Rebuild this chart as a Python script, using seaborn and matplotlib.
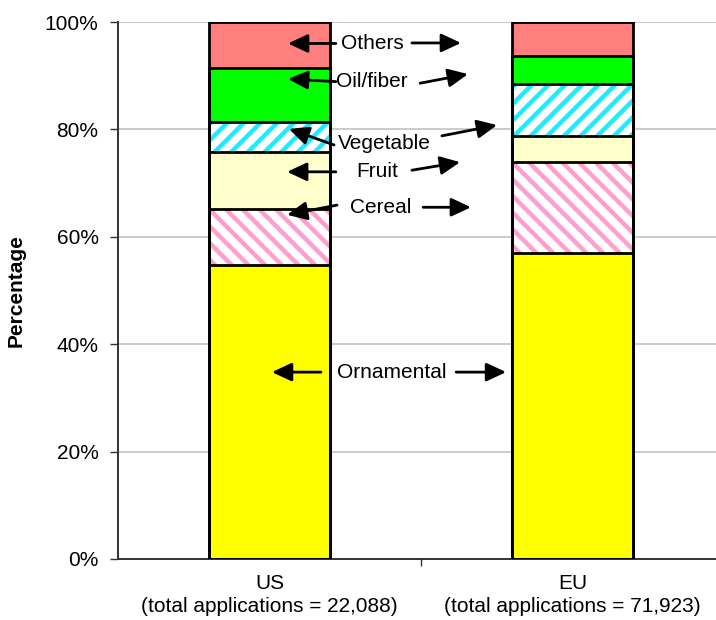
import numpy as np
import pandas as pd
import matplotlib
matplotlib.use("Agg")
import matplotlib.pyplot as plt
import seaborn as sns

# ---- data ----
regions = ["US", "EU"]
region_labels = ["US\n(total applications = 22,088)", "EU\n(total applications = 71,923)"]
categories = ["Ornamental", "Cereal", "Fruit", "Vegetable", "Oil/fiber", "Others"]
us_values = [54.7, 10.4, 10.6, 5.7, 10.0, 8.6]
eu_values = [57.0, 17.0, 4.8, 9.7, 5.2, 6.3]

colors = {"Ornamental": "#FFFF00", "Cereal": "#FF9ECF", "Fruit": "#FFFFCC",
          "Vegetable": "#1EEBFF", "Oil/fiber": "#00FF00", "Others": "#FF7F7F"}
hatches = {"Cereal": "\\\\", "Vegetable": "//"}

sns.set_theme(style="white")
plt.rcParams["font.family"] = ["Liberation Sans", "DejaVu Sans"]
plt.rcParams["hatch.linewidth"] = 3.2
plt.rcParams["text.color"] = "black"

fig = plt.figure(figsize=(7.16, 6.2), dpi=100)
ax = fig.add_axes([118 / 716, 1 - 559 / 620, 1 - 118 / 716, (559 - 22) / 620])

df = pd.DataFrame({"region": np.repeat(regions, len(categories)),
                   "category": categories * 2,
                   "value": us_values + eu_values})
df["cum"] = df.groupby("region")["value"].cumsum()
tot = df.groupby("region")["value"].transform("sum")
df["cum"] = df["cum"] / tot * 100

# draw fills from the top category down (overlapping cumulative bars)
for i, cat in enumerate(categories[::-1]):
    sub = df[df["category"] == cat]
    z = 2 + i * 0.1
    if cat in hatches:
        sns.barplot(data=sub, x="region", y="cum", order=regions, color="white",
                    saturation=1, width=0.4, ax=ax, linewidth=0, zorder=z)
        sns.barplot(data=sub, x="region", y="cum", order=regions,
                    width=0.4, ax=ax, fill=False, linewidth=0,
                    hatch=hatches[cat], edgecolor=colors[cat], zorder=z + 0.05)
    else:
        sns.barplot(data=sub, x="region", y="cum", order=regions, color=colors[cat],
                    saturation=1, width=0.4, ax=ax, linewidth=0, zorder=z)

# outlines
for cat in categories[::-1]:
    sub = df[df["category"] == cat]
    sns.barplot(data=sub, x="region", y="cum", order=regions, fill=False,
                width=0.4, ax=ax, edgecolor="black", linewidth=2, zorder=3)

ax.set_xlim(-0.5, -0.5 + 598 / 303)
ax.set_ylim(0, 100)
ax.set_yticks([0, 20, 40, 60, 80, 100])
ax.set_yticklabels([f"{v}%" for v in [0, 20, 40, 60, 80, 100]], fontsize=15)
ax.yaxis.grid(True, color="#BDBDBD", lw=1.1)
ax.set_axisbelow(True)
for s in ["top", "right"]:
    ax.spines[s].set_visible(False)
for s in ["left", "bottom"]:
    ax.spines[s].set_color("#333333")
    ax.spines[s].set_linewidth(1.4)
ax.tick_params(axis="y", left=True, length=6, width=1, color="#333333", pad=8,
               labelcolor="black")
ax.set_xticks([0, 1])
ax.set_xticklabels(region_labels, fontsize=15, linespacing=1.25)
ax.tick_params(axis="x", bottom=False, pad=5, labelcolor="black")
ax.set_xticks([0.5], minor=True)
ax.tick_params(axis="x", which="minor", bottom=True, length=5, width=1, color="#333333")
ax.set_xlabel("")
ax.set_ylabel("Percentage", fontsize=15, fontweight="bold", labelpad=14, color="black")

# annotations: (label, text pos, [(tail, head), ...])
annots = [
    ("Others", (0.338, 96.0), [((0.219, 96.0), (0.061, 96.0)), ((0.470, 96.1), (0.632, 96.1))]),
    ("Oil/fiber", (0.338, 88.9), [((0.219, 88.9), (0.061, 89.4)), ((0.497, 88.6), (0.655, 90.3))]),
    ("Vegetable", (0.378, 77.4), [((0.213, 77.1), (0.064, 80.1)), ((0.569, 78.8), (0.751, 80.8))]),
    ("Fruit", (0.355, 72.1), [((0.219, 72.1), (0.058, 72.1)), ((0.470, 72.4), (0.629, 73.9))]),
    ("Cereal", (0.368, 65.5), [((0.223, 65.9), (0.058, 64.1)), ((0.507, 65.5), (0.665, 65.5))]),
    ("Ornamental", (0.404, 34.8), [((0.170, 34.8), (0.008, 34.8)), ((0.616, 34.8), (0.781, 34.8))]),
]
for label, (tx, ty), arrows in annots:
    ax.text(tx, ty, label, ha="center", va="center", fontsize=15, color="black", zorder=5)
    for tail, head in arrows:
        ax.annotate("", xy=head, xytext=tail,
                    arrowprops=dict(arrowstyle="-|>,head_length=0.6,head_width=0.28",
                                    mutation_scale=20, lw=2, color="black",
                                    shrinkA=0, shrinkB=0),
                    zorder=6)

fig.savefig("out.png", dpi=100)
